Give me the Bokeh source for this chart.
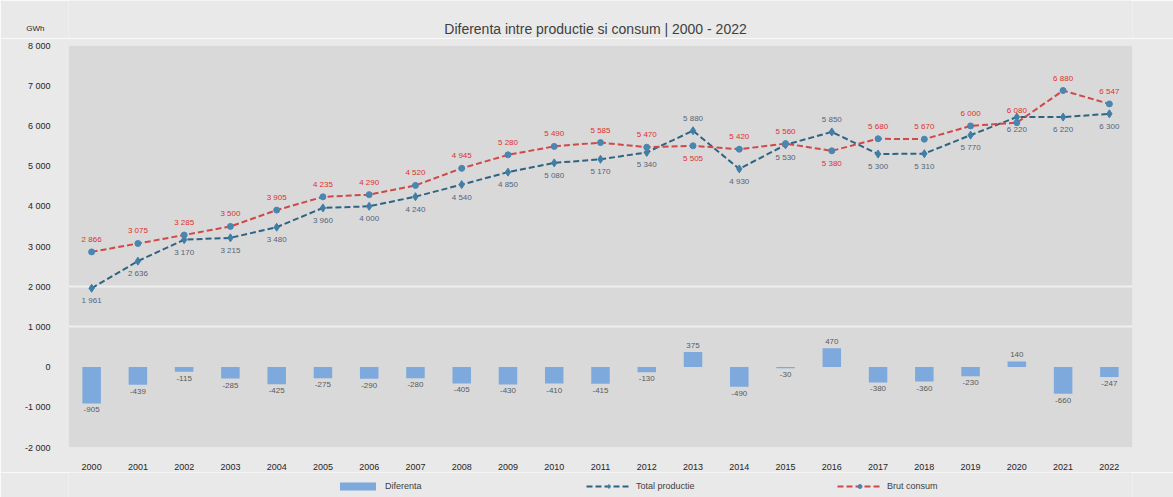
from bokeh.plotting import figure
from bokeh.layouts import column
from bokeh.models import ColumnDataSource, FixedTicker, Legend, LegendItem, Label, FactorRange, Range1d
from bokeh.core.properties import value
from bokeh.embed import file_html
from bokeh.resources import INLINE

# ---- data ----
years = [str(y) for y in range(2000, 2023)]
total_productie = [1961, 2636, 3170, 3215, 3480, 3960, 4000, 4240, 4540, 4850, 5080, 5170,
                   5340, 5880, 4930, 5530, 5850, 5300, 5310, 5770, 6220, 6220, 6300]
brut_consum = [2866, 3075, 3285, 3500, 3905, 4235, 4290, 4520, 4945, 5280, 5490, 5585,
               5470, 5505, 5420, 5560, 5380, 5680, 5670, 6000, 6080, 6880, 6547]
diferenta = [-905, -439, -115, -285, -425, -275, -290, -280, -405, -430, -410, -415,
             -130, 375, -490, -30, 470, -380, -360, -230, 140, -660, -247]
y_ticks = [-2000, -1000, 0, 1000, 2000, 3000, 4000, 5000, 6000, 7000, 8000]
y_tick_labels = ["-2 000", "-1 000", "0", "1 000", "2 000", "3 000", "4 000",
                 "5 000", "6 000", "7 000", "8 000"]

title_text = "Diferenta intre productie si consum | 2000 - 2022"
unit_text = "GWh"
series_names = ["Diferenta", "Total productie", "Brut consum"]

FONT = "Liberation Sans"
BG = "#e9e9e9"
BAR_COLOR = "#7ea9dc"
TP_COLOR, TP_MARK = "#2f6383", "#3f7ea6"
BC_COLOR, BC_MARK = "#d04848", "#4a86b0"

W = 1173
H_HEAD, H_MAIN, H_LEG = 38, 434, 25


def fmt(v):
    return f"{v:,}".replace(",", " ")


def strip(height, x_range, y_range, y_axis):
    f = figure(width=W, height=height, x_range=x_range, y_range=y_range,
               output_backend="svg", toolbar_location=None,
               x_axis_location=None, y_axis_location=y_axis,
               min_border=0, min_border_left=0, min_border_right=0,
               min_border_top=0, min_border_bottom=0,
               background_fill_color=BG, border_fill_color=BG, outline_line_color=None)
    f.grid.visible = False
    return f


# ---- header: title, and the unit shown as the label of a one-tick axis ----
head = strip(H_HEAD, Range1d(68, 1132), Range1d(0, H_HEAD), "left")
head.yaxis.ticker = FixedTicker(ticks=[10])
head.yaxis.major_label_overrides = {10: unit_text}
head.yaxis.axis_line_color = None
head.yaxis.major_tick_line_color = None
head.yaxis.minor_tick_line_color = None
head.yaxis.major_label_standoff = 18
head.yaxis.major_label_text_font = FONT
head.yaxis.major_label_text_font_size = "8px"
head.yaxis.major_label_text_color = "#262626"
head.add_layout(Label(x=595, y=10, text=title_text, text_align="center",
                      text_baseline="middle", text_font=FONT, text_font_size="14px",
                      text_color="#404040"))

# ---- main chart ----
p = figure(width=W, height=H_MAIN, x_range=years, y_range=(-2000, 8000),
           output_backend="svg", toolbar_location=None,
           min_border_left=68, min_border_right=41, min_border_top=7, min_border_bottom=25,
           background_fill_color="#d9d9d9", border_fill_color=BG,
           outline_line_color=None)
p.x_range.range_padding = 0

p.yaxis.ticker = FixedTicker(ticks=y_ticks)
p.yaxis.major_label_overrides = {t: l for t, l in zip(y_ticks, y_tick_labels)}
for ax in (p.xaxis[0], p.yaxis[0]):
    ax.axis_line_color = None
    ax.major_tick_line_color = None
    ax.minor_tick_line_color = None
    ax.major_label_text_font = FONT
    ax.major_label_text_font_size = "9px"
    ax.major_label_text_color = "#262626"
p.yaxis.major_label_standoff = 12
p.xaxis.major_label_standoff = 10
p.xgrid.grid_line_color = None
p.ygrid.ticker = FixedTicker(ticks=[1000, 2000])
p.ygrid.grid_line_color = "#efefef"
p.ygrid.grid_line_width = 2

bar_src = ColumnDataSource(dict(
    x=years, top=diferenta,
    text=[fmt(v) for v in diferenta],
    off=[4 if v < 0 else -4 for v in diferenta],
    base=["top" if v < 0 else "bottom" for v in diferenta],
))
p.vbar(x="x", top="top", bottom=0, width=0.4, source=bar_src,
       fill_color=BAR_COLOR, line_color=None)
p.text(x="x", y="top", text="text", source=bar_src, y_offset="off", text_baseline="base",
       text_align="center", text_font=value(FONT), text_font_size="8px", text_color="#595959")

p.line(years, total_productie, line_color=TP_COLOR, line_width=2, line_dash="6 3")
p.scatter(years, total_productie, marker="diamond", size=8, fill_color=TP_MARK, line_color=TP_MARK)
p.line(years, brut_consum, line_color=BC_COLOR, line_width=2, line_dash="6 3")
p.scatter(years, brut_consum, marker="circle", size=6, fill_color=BC_MARK, line_color=BC_MARK)

# production label goes above when production is clearly higher
swap = [d > 300 for d in diferenta]
tp_src = ColumnDataSource(dict(
    x=years, y=total_productie, text=[fmt(v) for v in total_productie],
    off=[-8 if s else 8 for s in swap], base=["bottom" if s else "top" for s in swap]))
bc_src = ColumnDataSource(dict(
    x=years, y=brut_consum, text=[fmt(v) for v in brut_consum],
    off=[8 if s else -8 for s in swap], base=["top" if s else "bottom" for s in swap]))
p.text(x="x", y="y", text="text", source=tp_src, y_offset="off", text_baseline="base",
       text_align="center", text_font=value(FONT), text_font_size="8px", text_color="#54657a")
p.text(x="x", y="y", text="text", source=bc_src, y_offset="off", text_baseline="base",
       text_align="center", text_font=value(FONT), text_font_size="8px", text_color="#e0302c")

# ---- legend strip: same series drawn out of view so the legend has real glyphs ----
leg = strip(H_LEG, FactorRange(factors=years), Range1d(20000, 20025), None)
r_bar = leg.vbar(x="x", top="top", bottom=0, width=0.4, source=bar_src,
                 fill_color=BAR_COLOR, line_color=None)
r_tp_l = leg.line(years, total_productie, line_color=TP_COLOR, line_width=2, line_dash="6 3")
r_tp_m = leg.scatter(years, total_productie, marker="diamond", size=8,
                     fill_color=TP_MARK, line_color=TP_MARK)
r_bc_l = leg.line(years, brut_consum, line_color=BC_COLOR, line_width=2, line_dash="6 3")
r_bc_m = leg.scatter(years, brut_consum, marker="circle", size=6,
                     fill_color=BC_MARK, line_color=BC_MARK)
legend = Legend(items=[
    LegendItem(label=series_names[0], renderers=[r_bar]),
    LegendItem(label=series_names[1], renderers=[r_tp_l, r_tp_m]),
    LegendItem(label=series_names[2], renderers=[r_bc_l, r_bc_m]),
], location=(267, 6), orientation="horizontal", label_width=193, spacing=8,
    glyph_width=45, glyph_height=10, padding=0, margin=0, label_standoff=5,
    background_fill_alpha=0, border_line_alpha=0,
    label_text_font=FONT, label_text_font_size="9px", label_text_color="#404040")
leg.add_layout(legend)

layout = column(head, p, leg, spacing=0)
open("out.html", "w").write(file_html(layout, INLINE))
